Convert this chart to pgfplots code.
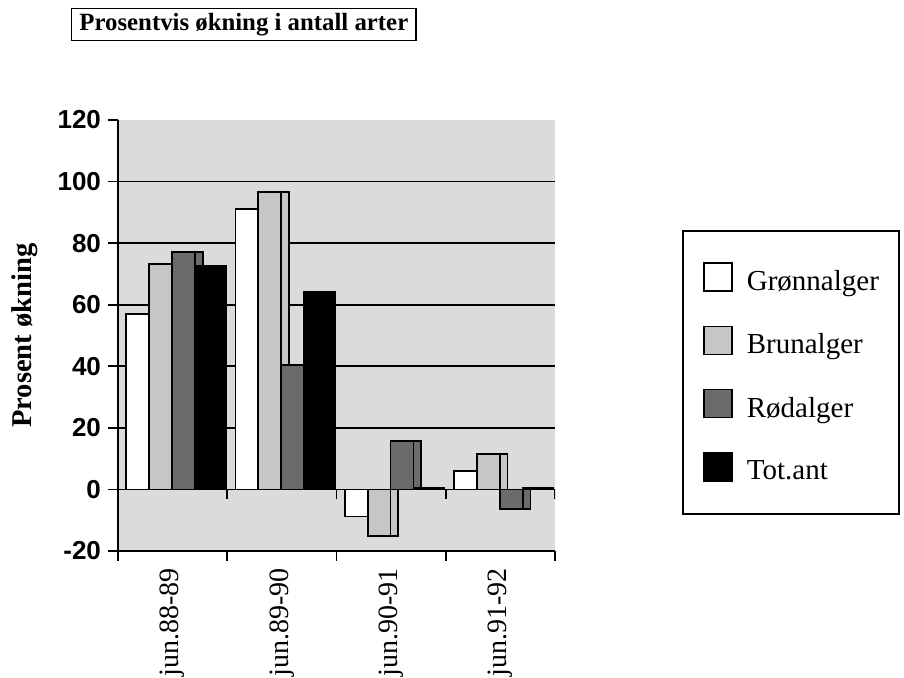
\documentclass[border=0pt]{standalone}
\usepackage{fontspec}
\setmainfont{Liberation Serif}
\newfontfamily\tickfont{Liberation Sans}
\usepackage{pgfplots}
\usepackage{pgfplotstable}
\pgfplotsset{compat=1.18}

% prosentvis okning per periode
\pgfplotstableread{
x gr br rd tot
0 57.0 73.1 77.1 72.5
1 91.2 96.6 40.4 64.1
2 -8.8 -15.1 15.8 0.5
3 6.1 11.5 -6.4 0.5
}\arter

\pgfplotsset{
  bar/.style={ybar, bar width=0.21, draw=black, line width=0.9pt},
  grn/.style={bar, fill=white},
  brn/.style={bar, fill=gray!45},
  rod/.style={bar, fill=black!58},
  tot/.style={bar, fill=black},
}

\begin{document}
\begin{tikzpicture}[x=1pt,y=1pt]
\useasboundingbox (-59,-63.5) rectangle (393,275.5);
\begin{axis}[
  at={(0,0)}, anchor=south west,
  scale only axis, width=218.5pt, height=215.5pt,
  xmin=-0.5, xmax=3.5, ymin=-20, ymax=120,
  axis x line*=bottom, axis y line*=left,
  axis line style={line width=0.9pt},
  axis background/.style={fill=gray!28},
  tick align=outside, major tick length=5pt,
  tick style={black, line width=0.9pt},
  xtick={-0.5,0.5,1.5,2.5,3.5},
  x tick label as interval,
  xticklabels={jun.88-89,jun.89-90,jun.90-91,jun.91-92},
  xticklabel style={rotate=90, anchor=east, font=\fontsize{14}{14}\selectfont},
  ytick={-20,0,20,40,60,80,100,120},
  yticklabels={-20,0,20,40,60,80,100,120},
  yticklabel style={font=\tickfont\bfseries\fontsize{13}{13}\selectfont},
  extra y ticks={0,20,40,60,80,100},
  extra y tick labels={},
  extra y tick style={grid=major, major tick length=0pt},
  major grid style={black, line width=0.9pt},
  ylabel={Prosent økning},
  ylabel style={at={(-0.213,0.5)}, anchor=center, font=\bfseries\fontsize{14.3}{16}\selectfont},
  title={Prosentvis økning i antall arter},
  every axis title shift=0pt,
  title style={at={(0.288,1.2216)}, anchor=center, draw=black, line width=0.8pt,
    font=\bfseries\fontsize{12.4}{14}\selectfont, inner xsep=4pt, inner ysep=2.4pt},
  legend image code/.code={\draw[#1] (0pt,-4.5pt) rectangle (14pt,9.5pt);},
  legend cell align=left,
  legend style={at={(1.54,0.414)}, anchor=center, draw=black, line width=0.8pt,
    fill=white, font=\fontsize{14.5}{16}\selectfont,
    inner xsep=10pt, inner ysep=15.75pt, row sep=15.85pt, column sep=7pt,
    nodes={inner sep=0pt}},
]
% sideflater (3D-effekt)
\addplot[grn, bar shift=-0.25, forget plot] table[x=x, y=gr] {\arter};
\addplot[brn, bar shift=-0.04, forget plot] table[x=x, y=br] {\arter};
\addplot[rod, bar shift=0.17, forget plot] table[x=x, y=rd] {\arter};
\addplot[tot, bar shift=0.38, forget plot] table[x=x, y=tot] {\arter};
% forsider
\addplot[grn, bar shift=-0.32] table[x=x, y=gr] {\arter};
\addplot[brn, bar shift=-0.11] table[x=x, y=br] {\arter};
\addplot[rod, bar shift=0.10] table[x=x, y=rd] {\arter};
\addplot[tot, bar shift=0.31] table[x=x, y=tot] {\arter};
\legend{Grønnalger, Brunalger, Rødalger, Tot.ant}
\pgfplotsinvokeforeach{0.5,1.5,2.5,3.5}{
  \draw[line width=0.9pt] (axis cs:#1,0) -- ++(0pt,-5pt);
}
\end{axis}
\end{tikzpicture}
\end{document}
